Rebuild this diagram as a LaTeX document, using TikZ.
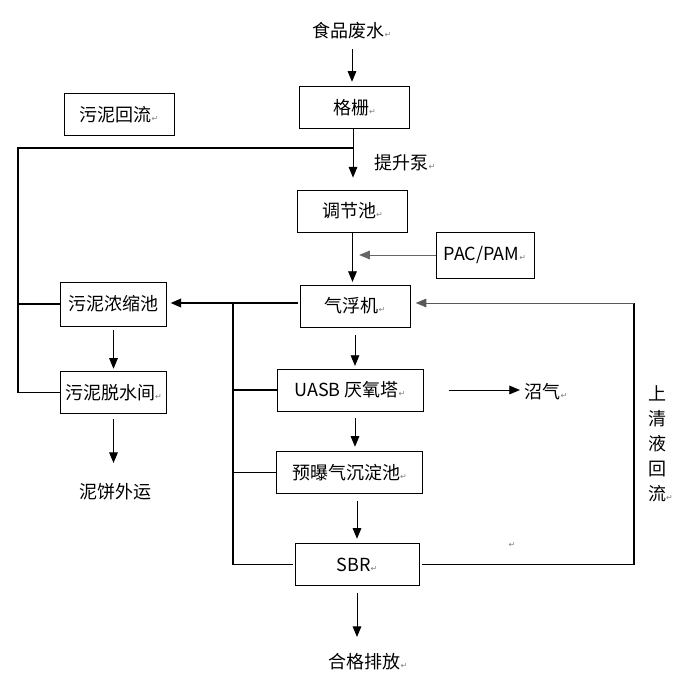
\documentclass[tikz,border=0pt]{standalone}
\usepackage{fontspec}
\setmainfont{Noto Sans CJK SC}
\newfontfamily\symfont{DejaVu Sans}
\usetikzlibrary{arrows.meta}
\newcommand{\retmark}{{\symfont\fontsize{6}{6}\selectfont\color{gray}↵}}
\begin{document}
\begin{tikzpicture}[x=0.75pt,y=-0.75pt,font=\fontsize{13.5}{16}\selectfont,
	box/.style={draw,line width=0.6pt,inner sep=0pt},
	flow/.style={-{Triangle[length=8pt,width=6.5pt]},line width=0.7pt},
	back/.style={line width=1.4pt}]
	\useasboundingbox (0,0) rectangle (674,684);
	% stations along the main line
	\node (feed) at (352,31) {食品废水\retmark};
	\node[box,minimum width=83pt,minimum height=32pt] (grate) at (354.5,107.5) {格栅\retmark};
	\node[box,minimum width=82.5pt,minimum height=32pt] (reflux) at (119,114.5) {污泥回流\retmark};
	\node (pump) at (405,163) {提升泵\retmark};
	\node[box,minimum width=83pt,minimum height=31.5pt] (adjust) at (352.5,211) {调节池\retmark};
	\node[box,minimum width=73.5pt,minimum height=34.5pt] (pac) at (485,255) {PAC/PAM\retmark};
	\node[box,minimum width=82.5pt,minimum height=31.5pt] (float) at (355,306) {气浮机\retmark};
	\node[box,minimum width=109.5pt,minimum height=31.5pt] (uasb) at (350,390) {UASB 厌氧塔\retmark};
	\node (gas) at (546,392) {沼气\retmark};
	\node[box,minimum width=109pt,minimum height=32pt] (pre) at (349.5,472.5) {预曝气沉淀池\retmark};
	\node[box,minimum width=93pt,minimum height=32pt] (sbr) at (357,564.5) {SBR\retmark};
	\node (out) at (368,662) {合格排放\retmark};
	% sludge side
	\node[box,minimum width=79pt,minimum height=33pt] (thick) at (113.5,304) {污泥浓缩池};
	\node[box,minimum width=79pt,minimum height=31pt] (dewater) at (113.5,392.5) {污泥脱水间\retmark};
	\node (cake) at (115,492) {泥饼外运};
	\node[align=center,inner sep=0pt,font=\fontsize{13.5}{18.8}\selectfont] (clear) at (657,444) {上\\清\\液\\回\\流\rlap{\retmark}};
	\node at (512,545) {\retmark};
	% joints
	\coordinate (jtop) at (353,148);
	\coordinate (ltop) at (18,148);
	\coordinate (split) at (233,303);
	\coordinate (rr) at (634,303);
	% main flow
	\draw[flow] ([yshift=-4pt]feed.south) -- ([yshift=3pt]feed.south |- grate.north);
	\draw[flow] (grate.south -| jtop) -- ([yshift=9pt]adjust.north -| jtop);
	\draw[flow] (adjust.south) -- ([yshift=2pt]adjust.south |- float.north);
	\draw[flow,draw=gray!80!black] (pac.west) -- ([xshift=5pt]pac.west -| adjust.south);
	\draw[flow] ([yshift=-6pt]float.south) -- ([yshift=2pt]float.south |- uasb.north);
	\draw[flow] ([yshift=-5pt]float.south |- uasb.south) -- ([yshift=3pt]float.south |- pre.north);
	\draw[flow] ([yshift=-5pt]sbr.north |- pre.south) -- ([yshift=3pt]sbr.north);
	\draw[flow] ([yshift=-5pt]sbr.south) -- ([yshift=9pt]sbr.south |- out.north);
	\draw[flow] ([xshift=19pt]uasb.east) -- (uasb.east -| gas.west);
	% supernatant back to the float unit
	\draw[back] ([xshift=2pt]sbr.east) -| (rr);
	\draw[flow,draw=gray!70!black] (rr) -- ([xshift=4pt]float.east |- rr);
	% sludge lines
	\draw[back,-{Triangle[length=8pt,width=6.5pt]}] ([xshift=-1pt]float.west |- split) -- ([xshift=3pt]thick.east |- split);
	\draw[back] (split) |- ([xshift=-1pt]sbr.west);
	\draw[back] (split |- uasb.west) -- (uasb.west);
	\draw[back] (split |- pre.west) -- (pre.west);
	\draw[back] (jtop) -- (ltop) |- (dewater.west);
	\draw[back] (ltop |- thick.west) -- (thick.west);
	\draw[flow] ([yshift=-3pt]thick.south) -- ([yshift=2pt]dewater.north);
	\draw[flow] ([yshift=-4pt]dewater.south) -- ([yshift=12pt]dewater.south |- cake.north);
\end{tikzpicture}
\end{document}
